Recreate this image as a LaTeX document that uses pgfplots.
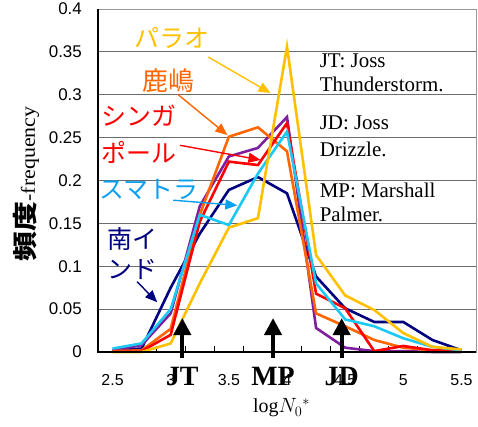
\documentclass[border=0pt]{standalone}
\usepackage{pgfplots}
\pgfplotsset{compat=1.18}
\usepackage{pgfplotstable}
\usepackage{graphicx}
\usepackage{fontspec}
\setmainfont{Liberation Serif}
\newfontfamily\sans{Liberation Sans}
\newfontfamily\jp{Noto Sans CJK JP}
\usetikzlibrary{arrows.meta}
\definecolor{cyel}{HTML}{FFC000}
\definecolor{corg}{HTML}{FF6600}
\definecolor{cred}{HTML}{FF0000}
\definecolor{cpur}{HTML}{7F1F9F}
\definecolor{ccya}{HTML}{1EC8F5}
\definecolor{cnav}{HTML}{000080}
\definecolor{ccyatext}{HTML}{0AA0F0}

\pgfplotstableread{
x     palau  kashima sing   purple sumatra sindia
2.50  0.000  0.001   0.001  0.002  0.004   0.002
2.75  0.000  0.002   0.001  0.008  0.010   0.004
3.00  0.010  0.027   0.020  0.045  0.050   0.075
3.25  0.080  0.160   0.152  0.170  0.160   0.138
3.50  0.145  0.251   0.222  0.228  0.148   0.189
3.75  0.156  0.262   0.218  0.238  0.208   0.204
4.00  0.356  0.234   0.267  0.274  0.257   0.185
4.25  0.113  0.045   0.068  0.028  0.080   0.088
4.50  0.066  0.030   0.051  0.005  0.038   0.051
4.75  0.049  0.014   0.001  0.001  0.030   0.035
5.00  0.022  0.005   0.007  0.001  0.016   0.035
5.25  0.006  0.002   0.002  0.000  0.006   0.014
5.50  0.003  0.001   0.001  0.000  0.002   0.002
}\datatab

\begin{document}
\begin{tikzpicture}
\begin{axis}[
  name=ax,
  scale only axis,
  width=378bp, height=343bp,
  xmin=2.375, xmax=5.625,
  ymin=0, ymax=0.4,
  clip=false,
  axis line style={draw=gray!80, line width=0.8bp},
  xtick={2.5,3,3.5,4,4.5,5,5.5},
  xticklabels={2.5,3,3.5,4,4.5,5,5.5},
  minor xtick={2.625,2.875,...,5.4},
  major x tick style={draw=none},
  minor x tick style={black, line width=0.8bp},
  minor tick length=6bp,
  tick align=inside,
  xtick pos=bottom,
  ytick={0,0.05,0.1,0.15,0.2,0.25,0.3,0.35,0.4},
  yticklabels={0,0.05,0.1,0.15,0.2,0.25,0.3,0.35,0.4},
  major y tick style={draw=none},
  ytick pos=left,
  ymajorgrids,
  grid style={gray!85!black, line width=0.9bp},
  xticklabel style={font=\sans\fontsize{16}{18}\selectfont, anchor=base, inner sep=0pt, yshift=-34bp},
  yticklabel style={font=\sans\fontsize{17}{19}\selectfont, anchor=east, inner sep=0pt, xshift=-16bp},
  every axis plot/.append style={line width=2.6bp, no markers, line join=miter},
]
\addplot[cnav] table[x=x, y=sindia] {\datatab};
\addplot[cpur] table[x=x, y=purple] {\datatab};
\addplot[corg] table[x=x, y=kashima] {\datatab};
\addplot[cred] table[x=x, y=sing] {\datatab};
\addplot[ccya] table[x=x, y=sumatra] {\datatab};
\addplot[cyel] table[x=x, y=palau] {\datatab};

\draw[black, line width=1.2bp] (rel axis cs:0,1) -- (rel axis cs:0,0) -- (rel axis cs:1,0);

% right-hand notes
\node[anchor=base west, inner sep=0pt, font=\fontsize{21}{23}\selectfont] at (axis cs:4.28,0.3323) {JT: Joss};
\node[anchor=base west, inner sep=0pt, font=\fontsize{21}{23}\selectfont] at (axis cs:4.28,0.3032) {Thunderstorm.};
\node[anchor=base west, inner sep=0pt, font=\fontsize{21}{23}\selectfont] at (axis cs:4.28,0.2589) {JD: Joss};
\node[anchor=base west, inner sep=0pt, font=\fontsize{21}{23}\selectfont] at (axis cs:4.28,0.2274) {Drizzle.};
\node[anchor=base west, inner sep=0pt, font=\fontsize{21}{23}\selectfont] at (axis cs:4.28,0.1807) {MP: Marshall};
\node[anchor=base west, inner sep=0pt, font=\fontsize{21}{23}\selectfont] at (axis cs:4.28,0.1516) {Palmer.};

% Japanese labels
\node[cyel, inner sep=0pt, font=\jp\fontsize{25}{27}\selectfont] at (axis cs:3.013,0.366) {パラオ};
\node[corg, inner sep=0pt, font=\jp\fontsize{26}{28}\selectfont] at (axis cs:2.978,0.317) {鹿嶋};
\node[cred, anchor=west, inner sep=0pt, font=\jp\fontsize{25}{27}\selectfont] at (axis cs:2.405,0.276) {シンガ};
\node[cred, anchor=west, inner sep=0pt, font=\jp\fontsize{25}{27}\selectfont] at (axis cs:2.405,0.233) {ポール};
\node[ccyatext, anchor=west, inner sep=0pt, font=\jp\fontsize{25}{27}\selectfont] at (axis cs:2.385,0.190) {スマトラ};
\node[cnav, anchor=west, inner sep=0pt, font=\jp\fontsize{25}{27}\selectfont] at (axis cs:2.455,0.132) {南イ};
\node[cnav, anchor=west, inner sep=0pt, font=\jp\fontsize{25}{27}\selectfont] at (axis cs:2.455,0.096) {ンド};

% annotation arrows
\draw[cyel, line width=1.4bp, -{Triangle[width=10bp,length=12bp]}] (axis cs:3.323,0.344) -- (axis cs:3.858,0.302);
\draw[corg, line width=1.4bp, -{Triangle[width=10bp,length=12bp]}] (axis cs:3.065,0.300) -- (axis cs:3.487,0.253);
\draw[cred, line width=1.4bp, -{Triangle[width=10bp,length=12bp]}] (axis cs:3.082,0.241) -- (axis cs:3.772,0.224);
\draw[ccyatext, line width=1.4bp, -{Triangle[width=10bp,length=12bp]}] (axis cs:3.022,0.177) -- (axis cs:3.573,0.171);
\draw[cnav, line width=1.4bp, -{Triangle[width=10bp,length=12bp]}] (axis cs:2.711,0.082) -- (axis cs:2.884,0.058);

% JT / MP / JD markers
\draw[black, line width=4bp, -{Triangle[width=17bp,length=17bp]}] (axis cs:3.10,-0.007) -- (axis cs:3.10,0.0396);
\draw[black, line width=4bp, -{Triangle[width=17bp,length=17bp]}] (axis cs:3.88,-0.007) -- (axis cs:3.88,0.0396);
\draw[black, line width=4bp, -{Triangle[width=17bp,length=17bp]}] (axis cs:4.47,-0.007) -- (axis cs:4.47,0.0396);
\node[anchor=base, inner sep=0pt, font=\bfseries\fontsize{28}{30}\selectfont] at (axis cs:3.10,-0.0385) {JT};
\node[anchor=base, inner sep=0pt, font=\bfseries\fontsize{28}{30}\selectfont] at (axis cs:3.88,-0.0385) {MP};
\node[anchor=base, inner sep=0pt, font=\bfseries\fontsize{28}{30}\selectfont] at (axis cs:4.47,-0.0385) {JD};

% axis labels
\node[anchor=base, inner sep=0pt, font=\fontsize{20}{22}\selectfont] at (axis cs:3.953,-0.0711) {log$N_0{}^{*}$};
\node[rotate=90, inner sep=0pt] at (axis cs:1.76,0.196) {\scalebox{1.2}[1]{\jp\bfseries\fontsize{25}{27}\selectfont 頻度}\scalebox{1.1}[1]{\fontsize{20}{22}\selectfont -frequency}};
\end{axis}
\path[use as bounding box] ([shift={(-98bp,-75bp)}]ax.south west) rectangle ([shift={(2bp,9bp)}]ax.north east);
\end{tikzpicture}
\end{document}
